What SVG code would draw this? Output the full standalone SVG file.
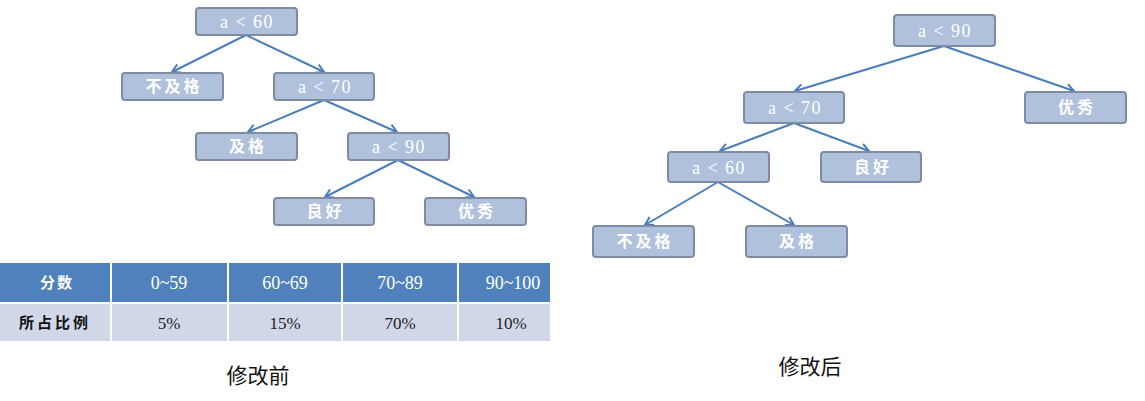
<svg xmlns="http://www.w3.org/2000/svg" width="1145" height="401" viewBox="0 0 1145 401">
  <style>
    .box { fill: #B0C1DC; stroke: #7F8BA2; stroke-width: 2; }
    .lat { font-family: "Liberation Serif", serif; font-size: 18px; fill: #ffffff; text-anchor: middle; letter-spacing: 1.5px; }
    .cjk { font-family: "Noto Sans CJK SC", sans-serif; font-size: 16px; font-weight: bold; fill: #ffffff; text-anchor: middle; letter-spacing: 3px; }
    .edge { stroke: #4A7EBB; stroke-width: 2; fill: none; marker-end: url(#arr); }
    .th { fill: #4F81BD; }
    .td { fill: #D0D8E8; }
    .tht { font-family: "Liberation Serif", serif; font-size: 18px; fill: #ffffff; text-anchor: middle; }
    .thc { font-family: "Noto Sans CJK SC", sans-serif; font-size: 15px; font-weight: bold; fill: #ffffff; text-anchor: middle; letter-spacing: 2px; }
    .tdt { font-family: "Liberation Serif", serif; font-size: 17px; fill: #222222; text-anchor: middle; }
    .tdc { font-family: "Noto Sans CJK SC", sans-serif; font-size: 15px; font-weight: bold; fill: #111111; text-anchor: middle; letter-spacing: 3px; }
    .cap { font-family: "Noto Sans CJK SC", sans-serif; font-size: 21px; fill: #111111; text-anchor: middle; }
  </style>
  <defs>
    <marker id="arr" markerWidth="12" markerHeight="12" refX="10" refY="6" orient="auto" markerUnits="userSpaceOnUse">
      <path d="M2,1.5 L10,6 L2,10.5" fill="none" stroke="#4A7EBB" stroke-width="2"/>
    </marker>
  </defs>

  <!-- left tree: connectors -->
  <g id="edges-left">
    <line class="edge" x1="246" y1="35" x2="172" y2="72"/>
    <line class="edge" x1="246" y1="35" x2="324" y2="72"/>
    <line class="edge" x1="324" y1="100" x2="248" y2="132"/>
    <line class="edge" x1="324" y1="100" x2="397" y2="132"/>
    <line class="edge" x1="398" y1="160" x2="325" y2="197"/>
    <line class="edge" x1="398" y1="160" x2="474" y2="197"/>
  </g>

  <!-- left tree: nodes -->
  <g id="L-a60"><rect class="box" x="196" y="8" width="101" height="27" rx="3"/><text class="lat" x="247" y="28">a &lt; 60</text></g>
  <g id="L-fail"><rect class="box" x="122" y="73" width="101" height="27" rx="3"/><text class="cjk" x="174" y="92">不及格</text></g>
  <g id="L-a70"><rect class="box" x="274" y="73" width="100" height="27" rx="3"/><text class="lat" x="325" y="93">a &lt; 70</text></g>
  <g id="L-pass"><rect class="box" x="196" y="133" width="101" height="27" rx="3"/><text class="cjk" x="248" y="152">及格</text></g>
  <g id="L-a90"><rect class="box" x="348" y="133" width="101" height="27" rx="3"/><text class="lat" x="399" y="153">a &lt; 90</text></g>
  <g id="L-good"><rect class="box" x="274" y="198" width="100" height="27" rx="3"/><text class="cjk" x="325.5" y="217">良好</text></g>
  <g id="L-excellent"><rect class="box" x="425" y="198" width="101" height="27" rx="3"/><text class="cjk" x="477" y="217">优秀</text></g>

  <!-- score distribution table -->
  <g id="table">
    <rect class="th" x="0" y="263" width="110" height="39"/>
    <rect class="th" x="112" y="263" width="115" height="39"/>
    <rect class="th" x="229" y="263" width="112" height="39"/>
    <rect class="th" x="343" y="263" width="114" height="39"/>
    <rect class="th" x="459" y="263" width="91" height="39"/>
    <rect class="td" x="0" y="304" width="110" height="37"/>
    <rect class="td" x="112" y="304" width="115" height="37"/>
    <rect class="td" x="229" y="304" width="112" height="37"/>
    <rect class="td" x="343" y="304" width="114" height="37"/>
    <rect class="td" x="459" y="304" width="91" height="37"/>
    <text class="thc" x="57" y="288">分数</text>
    <text class="tht" x="169" y="289">0~59</text>
    <text class="tht" x="285" y="289">60~69</text>
    <text class="tht" x="400" y="289">70~89</text>
    <text class="tht" x="513" y="289">90~100</text>
    <text class="tdc" x="55" y="328">所占比例</text>
    <text class="tdt" x="169" y="329">5%</text>
    <text class="tdt" x="285" y="329">15%</text>
    <text class="tdt" x="400" y="329">70%</text>
    <text class="tdt" x="511" y="329">10%</text>
  </g>

  <text class="cap" x="258" y="383">修改前</text>

  <!-- right tree: connectors -->
  <g id="edges-right">
    <line class="edge" x1="944" y1="46" x2="795" y2="91"/>
    <line class="edge" x1="944" y1="46" x2="1074" y2="91"/>
    <line class="edge" x1="794" y1="123" x2="720" y2="151"/>
    <line class="edge" x1="794" y1="123" x2="869" y2="151"/>
    <line class="edge" x1="718" y1="182" x2="645" y2="225"/>
    <line class="edge" x1="718" y1="182" x2="794" y2="225"/>
  </g>

  <!-- right tree: nodes -->
  <g id="R-a90"><rect class="box" x="894" y="15" width="101" height="31" rx="3"/><text class="lat" x="945" y="37">a &lt; 90</text></g>
  <g id="R-excellent"><rect class="box" x="1025" y="92" width="101" height="31" rx="3"/><text class="cjk" x="1077" y="113">优秀</text></g>
  <g id="R-a70"><rect class="box" x="744" y="92" width="100" height="31" rx="3"/><text class="lat" x="795" y="114">a &lt; 70</text></g>
  <g id="R-a60"><rect class="box" x="668" y="152" width="101" height="30" rx="3"/><text class="lat" x="719" y="174">a &lt; 60</text></g>
  <g id="R-good"><rect class="box" x="821" y="152" width="100" height="30" rx="3"/><text class="cjk" x="873" y="173">良好</text></g>
  <g id="R-fail"><rect class="box" x="593" y="226" width="101" height="31" rx="3"/><text class="cjk" x="645" y="247">不及格</text></g>
  <g id="R-pass"><rect class="box" x="746" y="226" width="101" height="31" rx="3"/><text class="cjk" x="798" y="247">及格</text></g>

  <text class="cap" x="810" y="374">修改后</text>
</svg>
